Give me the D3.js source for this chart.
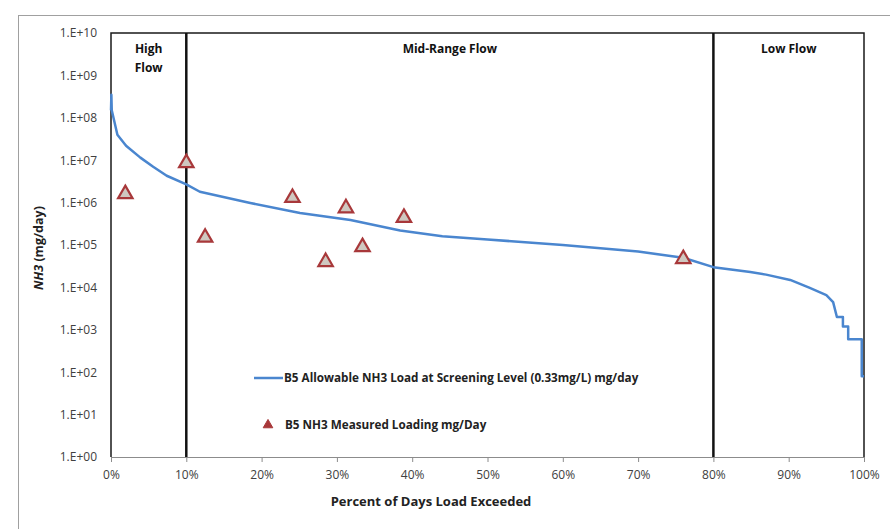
<!DOCTYPE html>
<html>
<head>
<meta charset="utf-8">
<script src="https://cdn.jsdelivr.net/npm/d3@7"></script>
<style>
  body { margin: 0; background: #fff; }
  text { font-family: "Open Sans", Lato, sans-serif; }
</style>
</head>
<body>
<div id="chart"></div>
<script>
var width = 890;
var height = 529;

// allowable load curve (percent exceeded, mg/day)
var curvePct = [0, 0.05, 0.1, 0.85, 2, 3.9, 5.6, 7.4, 10, 11.8, 18.5, 25.1, 31.8, 38.4, 44, 50, 60, 70, 76, 80, 84.9, 87, 90.2, 92.8, 95, 95.9, 96.4, 97.2, 97.2, 97.9, 97.9, 99.7, 99.7, 100];
var curveLoad = [1.5e8, 3.5e8, 1.5e8, 4e7, 2.2e7, 1.15e7, 7e6, 4.3e6, 2.7e6, 1.8e6, 9.8e5, 5.7e5, 3.9e5, 2.2e5, 1.6e5, 1.35e5, 1e5, 7e4, 5e4, 3e4, 2.3e4, 2e4, 1.5e4, 9.7e3, 6.6e3, 4.5e3, 2e3, 2e3, 1.2e3, 1.2e3, 600, 600, 80, 80];

// measured loads
var measPct = [1.9, 10, 12.5, 24.1, 28.5, 31.2, 33.4, 38.9, 76];
var measLoad = [1.6e6, 8.6e6, 1.5e5, 1.3e6, 4.0e4, 7.4e5, 9e4, 4.4e5, 4.7e4];

var xTicks = [0, 10, 20, 30, 40, 50, 60, 70, 80, 90, 100];
var yTicks = [1, 10, 1e2, 1e3, 1e4, 1e5, 1e6, 1e7, 1e8, 1e9, 1e10];

var zones = [
  { label: ["High", "Flow"], from: 0, to: 10 },
  { label: ["Mid-Range Flow"], from: 10, to: 80 },
  { label: ["Low Flow"], from: 80, to: 100 }
];

var margin = { top: 33, right: 26, bottom: 72, left: 111 };

var svg = d3.select("#chart")
  .append("svg")
  .attr("width", width)
  .attr("height", height);

// outer frame (only top/left visible)
svg.append("rect")
  .attr("x", 18.5)
  .attr("y", 15.5)
  .attr("width", 900)
  .attr("height", 600)
  .attr("fill", "none")
  .attr("stroke", "#a0a0a0")
  .attr("stroke-width", 1);

var x = d3.scaleLinear().domain([0, 100]).range([margin.left, width - margin.right]);
var y = d3.scaleLog().domain([1, 1e10]).range([height - margin.bottom, margin.top]);

// x axis
var xAxis = svg.append("g")
  .attr("transform", "translate(0," + y(1) + ")")
  .call(d3.axisBottom(x).tickValues(xTicks).tickSize(5).tickFormat(function(d) { return d + "%"; }));
xAxis.select(".domain").attr("stroke", "#8c8c8c");
xAxis.selectAll(".tick line").attr("stroke", "#8c8c8c");
xAxis.selectAll("text").attr("font-size", 12).attr("fill", "#404040").attr("dy", "1.15em");

// y axis labels
var yAxis = svg.append("g")
  .attr("transform", "translate(" + x(0) + ",0)")
  .call(d3.axisLeft(y).tickValues(yTicks).tickSize(0).tickPadding(14).tickFormat(function(d) {
    return "1.E+" + d3.format("02d")(Math.round(Math.log10(d)));
  }));
yAxis.select(".domain").remove();
yAxis.selectAll("text").attr("font-size", 12).attr("fill", "#404040");

// plot box (top, left, right)
svg.append("path")
  .attr("d", "M" + x(0) + "," + y(1) + "V" + y(1e10) + "H" + x(100) + "V" + y(1))
  .attr("fill", "none")
  .attr("stroke", "#1a1a1a")
  .attr("stroke-width", 1.5);

// zone dividers
svg.selectAll(".divider")
  .data([10, 80])
  .enter()
  .append("line")
  .attr("x1", function(d) { return x(d); })
  .attr("x2", function(d) { return x(d); })
  .attr("y1", y(1e10))
  .attr("y2", y(1))
  .attr("stroke", "#111")
  .attr("stroke-width", 2.5);

// zone labels
zones.forEach(function(z) {
  var t = svg.append("text")
    .attr("x", x((z.from + z.to) / 2))
    .attr("y", 53)
    .attr("text-anchor", "middle")
    .attr("font-size", 12)
    .attr("font-weight", "bold")
    .attr("fill", "#111");
  z.label.forEach(function(s, i) {
    t.append("tspan")
      .attr("x", x((z.from + z.to) / 2))
      .attr("dy", i === 0 ? 0 : 19)
      .text(s);
  });
});

// allowable load curve
var curveData = curvePct.map(function(p, i) { return [p, curveLoad[i]]; });
svg.append("path")
  .datum(curveData)
  .attr("fill", "none")
  .attr("stroke", "#4a86cf")
  .attr("stroke-width", 2.5)
  .attr("stroke-linejoin", "round")
  .attr("d", d3.line()
    .x(function(d) { return x(d[0]); })
    .y(function(d) { return y(d[1]); }));

// measured triangles
var tri = d3.symbol().type(d3.symbolTriangle).size(90);
svg.selectAll(".meas")
  .data(measPct.map(function(p, i) { return [p, measLoad[i]]; }))
  .enter()
  .append("path")
  .attr("class", "meas")
  .attr("d", tri)
  .attr("transform", function(d) { return "translate(" + x(d[0]) + "," + y(d[1]) + ")"; })
  .attr("fill", "#cfc8c0")
  .attr("stroke", "#a8383a")
  .attr("stroke-width", 2.2);

// legend
svg.append("line")
  .attr("x1", 254).attr("x2", 283)
  .attr("y1", 378).attr("y2", 378)
  .attr("stroke", "#4a86cf")
  .attr("stroke-width", 2.5);
svg.append("text")
  .attr("x", 284).attr("y", 382)
  .attr("font-size", 11.7).attr("font-weight", "bold").attr("fill", "#222")
  .text("B5 Allowable NH3 Load at Screening Level (0.33mg/L) mg/day");
svg.append("path")
  .attr("d", d3.symbol().type(d3.symbolTriangle).size(40))
  .attr("transform", "translate(268,425)")
  .attr("fill", "#a8383a")
  .attr("stroke", "#a8383a")
  .attr("stroke-width", 1);
svg.append("text")
  .attr("x", 285).attr("y", 429)
  .attr("font-size", 11.7).attr("font-weight", "bold").attr("fill", "#222")
  .text("B5 NH3 Measured Loading mg/Day");

// axis titles
svg.append("text")
  .attr("x", 431).attr("y", 506)
  .attr("text-anchor", "middle")
  .attr("font-size", 13).attr("font-weight", "bold").attr("fill", "#222")
  .text("Percent of Days Load Exceeded");

var yt = svg.append("text")
  .attr("transform", "translate(43,248) rotate(-90)")
  .attr("text-anchor", "middle")
  .attr("font-size", 12.5).attr("font-weight", "bold").attr("fill", "#222");
yt.append("tspan").attr("font-style", "italic").text("NH3");
yt.append("tspan").text(" (mg/day)");
</script>
</body>
</html>
